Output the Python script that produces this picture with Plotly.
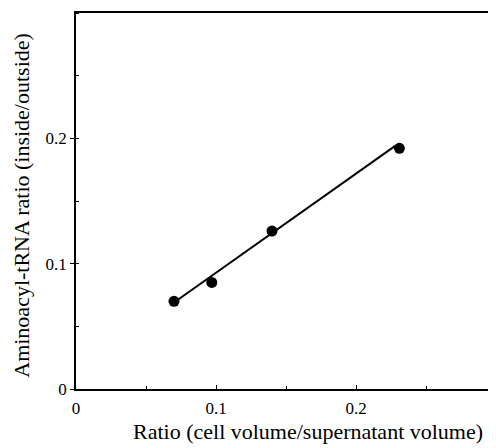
import plotly.graph_objects as go

# Data
x_vals = [0.070, 0.097, 0.140, 0.231]
y_vals = [0.070, 0.085, 0.126, 0.192]
fit_x = [0.070, 0.228]
fit_y = [0.069, 0.194]
x_tickvals = [0, 0.1, 0.2]
x_ticktext = ["0", "0.1", "0.2"]
y_tickvals = [0, 0.1, 0.2]
y_ticktext = ["0", "0.1", "0.2"]
x_title = "Ratio (cell volume/supernatant volume)"
y_title = "Aminoacyl-tRNA ratio (inside/outside)"

font_family = "Liberation Serif"

fig = go.Figure()
fig.add_trace(go.Scatter(x=fit_x, y=fit_y, mode="lines",
                         line=dict(color="black", width=2), showlegend=False,
                         hoverinfo="skip"))
fig.add_trace(go.Scatter(x=x_vals, y=y_vals, mode="markers",
                         marker=dict(color="black", size=11), showlegend=False))

# page body has an 8px margin, so the figure is 8px smaller and shifted
fig.update_layout(
    width=488, height=440,
    margin=dict(l=68, r=0, t=5, b=59),
    paper_bgcolor="white", plot_bgcolor="white",
    font=dict(family=font_family, color="black", size=17),
    xaxis=dict(range=[0, 0.3], tickvals=x_tickvals, ticktext=x_ticktext,
               showgrid=False, zeroline=False, showline=True, linecolor="black",
               linewidth=1.5, mirror=True, ticks="inside", ticklen=4,
               tickcolor="black", ticklabelstandoff=3,
               minor=dict(dtick=0.05, ticks="inside", ticklen=3, tickcolor="black"),
               tickfont=dict(size=17)),
    yaxis=dict(range=[0, 0.3], tickvals=y_tickvals, ticktext=y_ticktext,
               showgrid=False, zeroline=False, showline=True, linecolor="black",
               linewidth=1.5, ticks="outside", ticklen=4, tickcolor="black",
               minor=dict(dtick=0.05, ticks="inside", ticklen=3, tickcolor="black"),
               tickfont=dict(size=17)),
    annotations=[
        dict(text=x_title, xref="paper", yref="paper", x=0.553, y=-0.114,
             xanchor="center", yanchor="middle", showarrow=False,
             font=dict(size=22)),
        dict(text=y_title, xref="paper", yref="paper", x=-0.1286, y=0.49,
             xanchor="center", yanchor="middle", showarrow=False, textangle=-90,
             font=dict(size=22)),
    ],
)

fig.write_html("out.html")
